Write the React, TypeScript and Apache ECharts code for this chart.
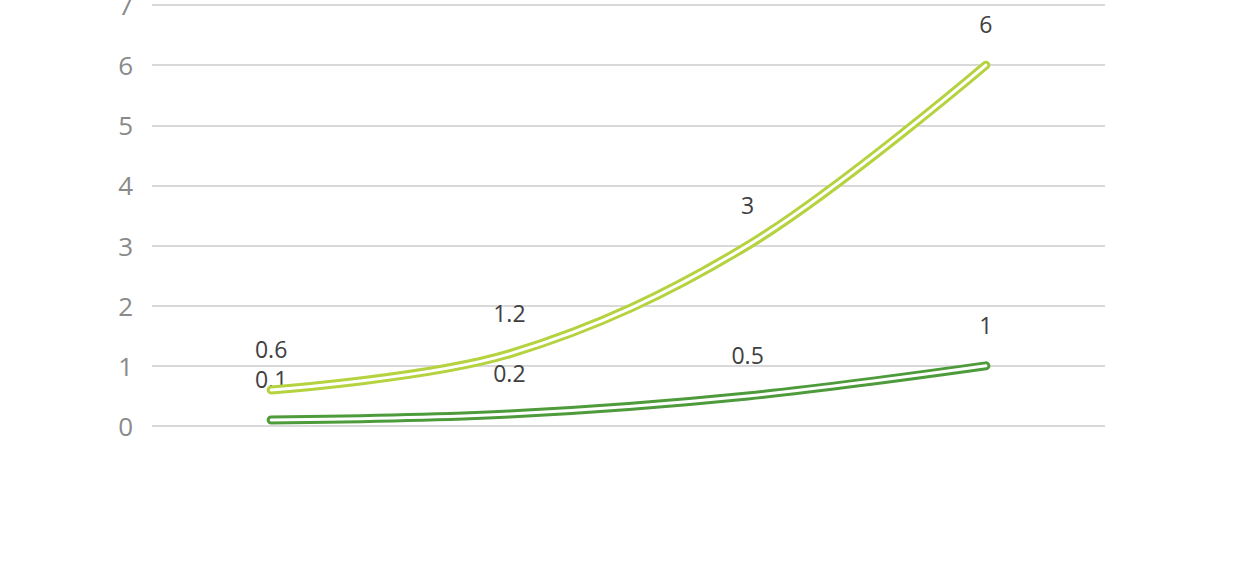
import React, { useEffect, useRef } from "react";
import * as echarts from "echarts";

const categories = ["A", "B", "C", "D"];
const upperValues = [0.6, 1.2, 3, 6];
const lowerValues = [0.1, 0.2, 0.5, 1];
const yTicks = [0, 1, 2, 3, 4, 5, 6, 7];

const LIGHT = "#b5d23f";
const DARK = "#4d9b3b";

function makeLine(name: string, data: number[], color: string, z: number) {
  return [
    {
      name,
      type: "line",
      data,
      smooth: 0.35,
      symbol: "circle",
      symbolSize: 3,
      showSymbol: true,
      showAllSymbol: true,
      itemStyle: { color },
      z,
      lineStyle: { color, width: 9, cap: "round", join: "round" },
      label: {
        show: true,
        position: "top",
        distance: 28,
        fontSize: 23,
        color: "#404040",
        fontFamily: "Open Sans, Noto Sans, sans-serif",
      },
    },
    {
      name: name + "-inner",
      type: "line",
      data,
      smooth: 0.35,
      symbol: "none",
      z: z + 1,
      silent: true,
      lineStyle: { color: "#ffffff", width: 3, cap: "round", join: "round" },
      label: { show: false },
    },
  ];
}

export default function App() {
  const ref = useRef<HTMLDivElement>(null);
  useEffect(() => {
    if (!ref.current) return;
    const chart = echarts.init(ref.current, undefined, { renderer: "svg" });
    chart.setOption({
      animation: false,
      backgroundColor: "#ffffff",
      grid: { left: 152, right: 135, top: 5, bottom: 160, outerBoundsMode: "none", containLabel: false },
      xAxis: {
        type: "category",
        data: categories,
        boundaryGap: true,
        axisLine: { show: false },
        axisTick: { show: false },
        axisLabel: { show: false },
      },
      yAxis: {
        type: "value",
        min: yTicks[0],
        max: yTicks[yTicks.length - 1],
        interval: 1,
        axisLine: { show: false },
        axisTick: { show: false },
        axisLabel: {
          margin: 19,
          fontSize: 26,
          color: "#8a8a8a",
          fontFamily: "Open Sans, Noto Sans, sans-serif",
        },
        splitLine: { lineStyle: { color: "#d9d9d9", width: 2 } },
      },
      series: [
        ...makeLine("lower", lowerValues, DARK, 2),
        ...makeLine("upper", upperValues, LIGHT, 4),
      ],
    });
    return () => chart.dispose();
  }, []);
  return (
    <div
      ref={ref}
      style={{ position: "fixed", left: 0, top: 0, width: 1240, height: 586, background: "#fff" }}
    />
  );
}
